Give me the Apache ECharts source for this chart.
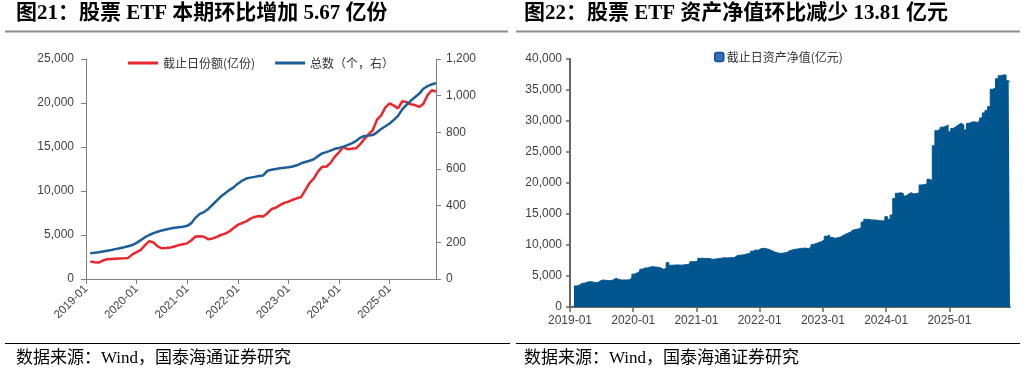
<!DOCTYPE html>
<html><head><meta charset="utf-8">
<script src="https://cdn.jsdelivr.net/npm/echarts@6/dist/echarts.min.js"></script>
<style>html,body{margin:0;padding:0;background:#fff}#c{width:1024px;height:373px}</style>
</head><body><div id="c"></div>
<script>
// ---- categories ----
const months = [];
const halfMonths = [];
for (let y = 2019; y <= 2025; y++) {
  for (let m = 1; m <= 12; m++) {
    const mm = (m < 10 ? '0' : '') + m;
    months.push(y + '-' + mm);
    halfMonths.push(y + '-' + mm + '-01');
    halfMonths.push(y + '-' + mm + '-16');
  }
}
// ---- left chart: ETF shares (亿份), monthly ----
const shareValues = [null,2000,1900,1870,2100,2240,2270,2300,2330,2360,2400,2800,
  3050,3300,3850,4300,4150,3700,3490,3520,3580,3700,3850,3950,
  4050,4400,4830,4850,4800,4500,4600,4780,5000,5150,5400,5800,
  6150,6350,6550,6850,7050,7150,7100,7450,7950,8100,8400,8650,
  8780,9000,9170,9300,10100,10900,11400,12200,12760,12760,13200,13900,
  14400,15000,14750,14800,14850,15300,15900,16450,16900,18100,18600,19500,
  19960,19700,19390,20200,20100,19850,19770,19550,19900,20900,21450,21300];
// ---- left chart: ETF count (个), monthly ----
const countValues = [null,141,143,146,150,154,158,163,168,173,179,185,
  197,212,228,240,250,258,265,270,275,279,282,285,
  290,305,335,355,365,382,405,428,450,468,485,500,
  520,536,548,553,557,562,565,590,596,600,604,607,
  610,614,620,631,638,645,653,670,685,692,700,710,
  715,722,730,740,752,770,780,782,785,800,818,833,
  848,868,890,925,950,972,991,1010,1038,1052,1062,1068];
// ---- right chart: net asset value (亿元), semi-monthly ----
const navValues = [
  null,null,3390,3500,3800,3850,4000,4080,4050,3950,3920,4200,4360,4300,4280,4240,4400,4630,4450,4360,4360,4360,4380,4700,
  5300,5500,5750,6100,6300,6300,6450,6500,6450,6400,6300,6080,6200,7150,6730,6750,6780,6770,6750,6800,6850,6950,7310,7300,
  7400,7850,7850,7800,7850,7750,7690,7750,7800,7850,7950,7900,7950,7950,8000,8300,8350,8390,8450,8600,8660,9000,9200,9150,
  9400,9470,9400,9300,9100,8900,8750,8660,8650,8750,8820,9100,9200,9310,9350,9450,9470,9500,9400,9700,10100,10250,10400,10550,
  10800,11400,11600,11240,11080,11150,11250,11500,11700,11900,12100,12420,12500,12600,12800,13700,14150,14100,14050,14030,14000,13920,13900,13870,
  14570,14150,14840,17500,18340,18440,18300,17900,18200,18440,18230,18300,18400,19680,19750,19840,20600,20370,26000,28440,28660,29000,29100,29360,
  28280,28800,29080,29400,29630,29360,28550,29630,29800,29890,29730,30050,30500,31300,31700,32310,35120,35370,36800,37300,37420,37420,36500,36340];

const leftTicks = { min: 0, max: 25000, interval: 5000 };
const rightTicks = { min: 0, max: 1200, interval: 200 };
const navTicks = { min: 0, max: 40000, interval: 5000 };

const fmt = v => v.toLocaleString('en-US');
const lblFont = "'Liberation Sans', 'Noto Sans CJK SC', sans-serif";
const cjk = "'Noto Sans CJK SC', sans-serif";
const titleFont = "'Liberation Serif', 'Noto Sans CJK SC', serif";
const greyAxis = { lineStyle: { color: '#808080', width: 1 } };
const darkAxis = { lineStyle: { color: '#666666', width: 2 } };

const chart = echarts.init(document.getElementById('c'), null, { renderer: 'canvas' });
chart.setOption({
  animation: false,
  backgroundColor: '#fff',
  graphic: [
    { type: 'text', left: 16, top: 3, style: { text: '图21：股票 ETF 本期环比增加 5.67 亿份', font: "bold 21px " + titleFont, fill: '#000' } },
    { type: 'text', left: 524, top: 3, style: { text: '图22：股票 ETF 资产净值环比减少 13.81 亿元', font: "bold 21px " + titleFont, fill: '#000' } },
    { type: 'line', shape: { x1: 5, y1: 31.5, x2: 508, y2: 31.5 }, style: { stroke: '#8c8c8c', lineWidth: 2 } },
    { type: 'line', shape: { x1: 516, y1: 31.5, x2: 1020, y2: 31.5 }, style: { stroke: '#8c8c8c', lineWidth: 2 } },
    { type: 'line', shape: { x1: 5, y1: 343.5, x2: 510, y2: 343.5 }, style: { stroke: '#000', lineWidth: 1.2 } },
    { type: 'line', shape: { x1: 516, y1: 343.5, x2: 1020, y2: 343.5 }, style: { stroke: '#000', lineWidth: 1.2 } },
    { type: 'text', left: 16, top: 350, style: { text: '数据来源：Wind，国泰海通证券研究', font: "17px " + titleFont, fill: '#000' } },
    { type: 'text', left: 524, top: 350, style: { text: '数据来源：Wind，国泰海通证券研究', font: "17px " + titleFont, fill: '#000' } }
  ],
  legend: [
    { data: [{ name: '截止日份额(亿份)', icon: 'rect' }, { name: '总数（个，右）', icon: 'rect' }],
      left: 123, top: 52, itemWidth: 30, itemHeight: 3, itemGap: 20,
      textStyle: { fontSize: 12, color: '#333', fontFamily: cjk } },
    { data: [{ name: '截止日资产净值(亿元)', icon: 'roundRect', itemStyle: { color: '#3a6cc0', borderColor: '#02568F', borderWidth: 1.5 } }],
      left: 709, top: 46, itemWidth: 9, itemHeight: 9, itemGap: 4,
      textStyle: { fontSize: 12, color: '#333', fontFamily: cjk, padding: [0, 0, 0, -2] } }
  ],
  grid: [
    { left: 86, top: 59, width: 350, height: 220 },
    { left: 570, top: 59, width: 440, height: 248 }
  ],
  xAxis: [
    { type: 'category', gridIndex: 0, data: months, boundaryGap: false,
      axisLine: greyAxis,
      axisTick: { interval: (i, v) => v.endsWith('-01'), length: 5, lineStyle: { color: '#808080' } },
      axisLabel: { interval: (i, v) => v.endsWith('-01'), rotate: 45, fontSize: 11.5, color: '#404040', fontFamily: lblFont, margin: 8 },
      splitLine: { show: false } },
    { type: 'category', gridIndex: 1, data: halfMonths, boundaryGap: false,
      axisLine: darkAxis,
      axisTick: { interval: (i, v) => v.endsWith('-01-01'), length: 5, lineStyle: { color: '#666', width: 1.5 } },
      axisLabel: { interval: (i, v) => v.endsWith('-01-01'), formatter: v => v.slice(0, 7), fontSize: 12, color: '#404040', fontFamily: lblFont, margin: 8 },
      splitLine: { show: false } }
  ],
  yAxis: [
    { type: 'value', gridIndex: 0, position: 'left', min: leftTicks.min, max: leftTicks.max, interval: leftTicks.interval,
      axisLine: Object.assign({ show: true }, greyAxis), axisTick: { show: true, length: 5, lineStyle: { color: '#808080' } },
      axisLabel: { formatter: fmt, fontSize: 12, color: '#404040', fontFamily: lblFont, margin: 12 }, splitLine: { show: false } },
    { type: 'value', gridIndex: 0, position: 'right', min: rightTicks.min, max: rightTicks.max, interval: rightTicks.interval,
      axisLine: Object.assign({ show: true }, greyAxis), axisTick: { show: true, length: 5, lineStyle: { color: '#808080' } },
      axisLabel: { formatter: fmt, fontSize: 12, color: '#404040', fontFamily: lblFont, margin: 10 }, splitLine: { show: false } },
    { type: 'value', gridIndex: 1, position: 'left', min: navTicks.min, max: navTicks.max, interval: navTicks.interval,
      axisLine: Object.assign({ show: true }, darkAxis), axisTick: { show: true, length: 4, lineStyle: { color: '#666', width: 1.5 } },
      axisLabel: { formatter: fmt, fontSize: 12, color: '#404040', fontFamily: lblFont, margin: 8 }, splitLine: { show: false } }
  ],
  series: [
    { name: '截止日份额(亿份)', type: 'line', xAxisIndex: 0, yAxisIndex: 0, data: shareValues,
      symbol: 'none', color: '#E8282E', lineStyle: { width: 2.5, color: '#E8282E' } },
    { name: '总数（个，右）', type: 'line', xAxisIndex: 0, yAxisIndex: 1, data: countValues,
      symbol: 'none', color: '#1D5E98', lineStyle: { width: 2.5, color: '#1D5E98' } },
    { name: '截止日资产净值(亿元)', type: 'line', xAxisIndex: 1, yAxisIndex: 2, data: navValues,
      step: 'middle', symbol: 'none', color: '#02568F',
      lineStyle: { width: 1, color: '#02568F' }, areaStyle: { color: '#02568F', opacity: 1 } }
  ]
});
</script></body></html>
